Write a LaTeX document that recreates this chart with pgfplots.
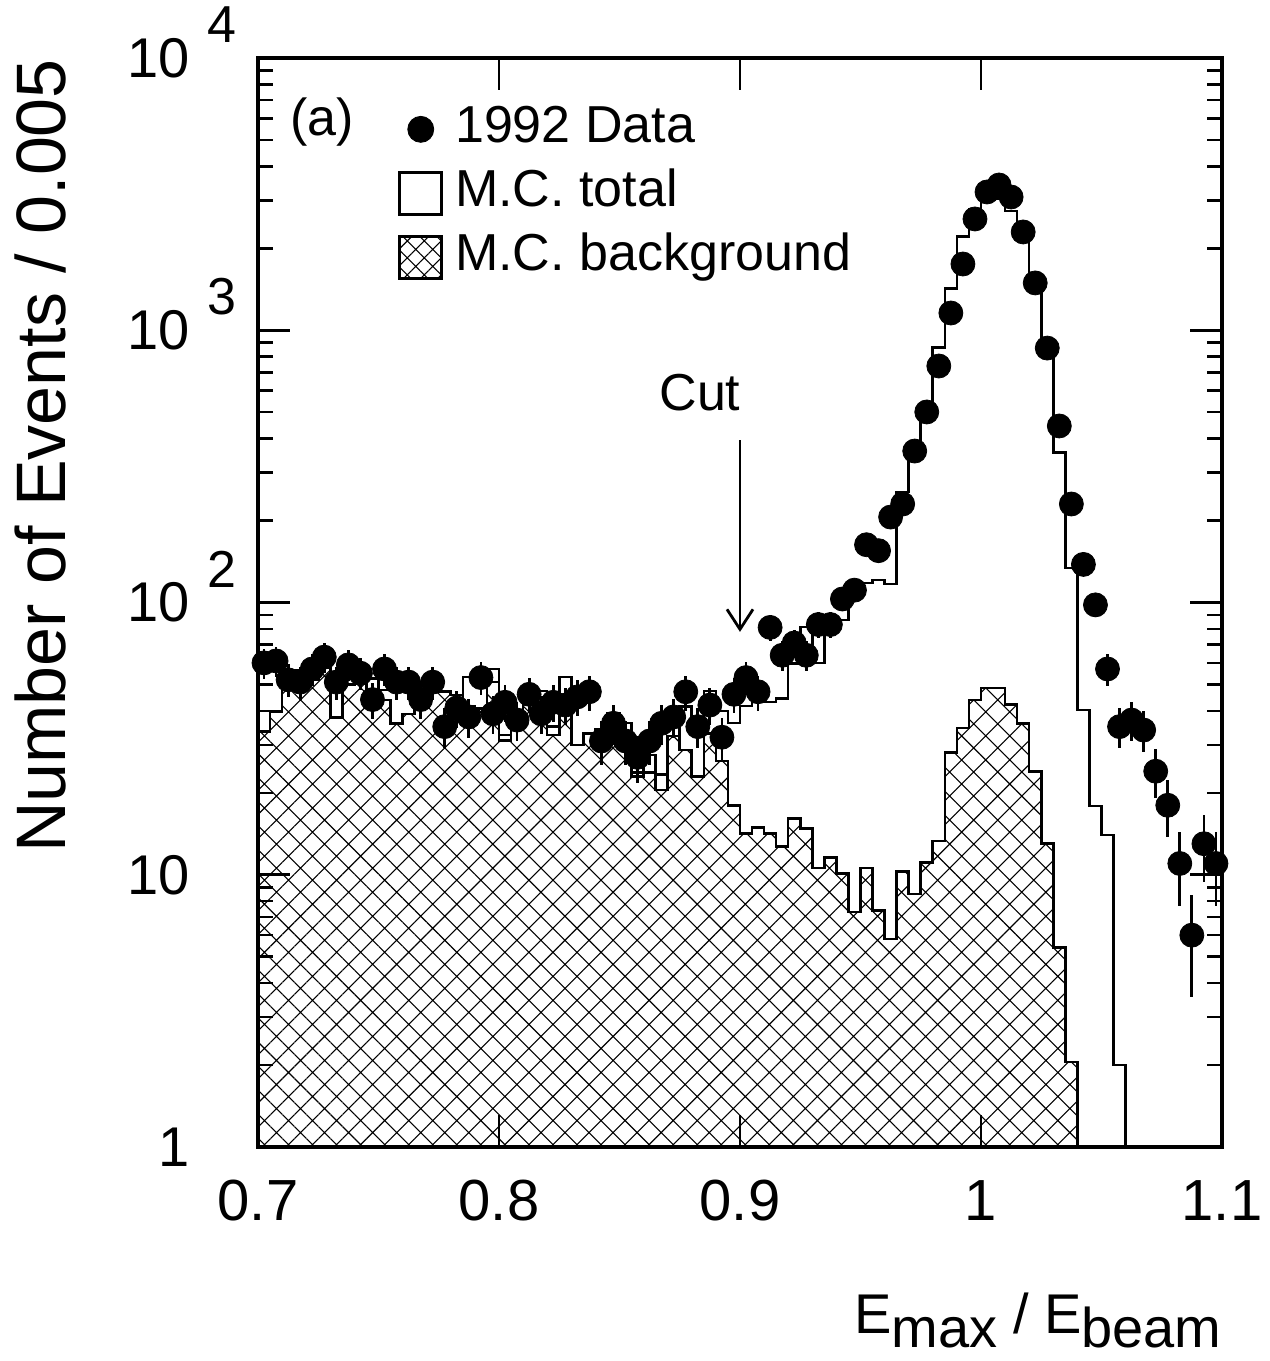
\documentclass[border=0pt]{standalone}
\usepackage{fontspec}
\setmainfont{Liberation Sans}
\usepackage{pgfplots}
\pgfplotsset{compat=1.18}
\usetikzlibrary{patterns.meta,arrows.meta}

\newcommand{\supr}[1]{\rlap{\smash{\raisebox{0.62em}{\hspace{9pt}\fontsize{26}{26}\selectfont #1}}}}
\tikzset{hatchfill/.style={pattern={Hatch[angle=45,distance=8.5pt,line width=0.55pt]}}}

\begin{document}
\begin{tikzpicture}
\begin{axis}[
  width=482pt, height=544.5pt, scale only axis,
  xmin=0.7, xmax=1.1, ymin=1, ymax=10000, ymode=log,
  xtick={0.7,0.8,0.9,1,1.1}, xticklabels={0.7,0.8,0.9,1,1.1},
  ytick={1,10,100,1000,10000},
  yticklabels={1,10,{10\supr{2}},{10\supr{3}},{10\supr{4}}},
  minor ytick={2,3,4,5,6,7,8,9,20,30,40,50,60,70,80,90,200,300,400,500,600,700,800,900,2000,3000,4000,5000,6000,7000,8000,9000},
  tick align=inside, xtick pos=both, ytick pos=both,
  major tick length=16pt, minor tick length=7.5pt,
  axis line style={line width=1.6pt},
  every tick/.style={black, line width=1.3pt},
  xticklabel style={font=\fontsize{29}{29}\selectfont, inner sep=0pt, yshift=-16.5pt},
  yticklabel style={font=\fontsize{28}{28}\selectfont, inner sep=0pt, xshift=-34pt},
  xlabel={E\raisebox{-0.26em}{max} / E\raisebox{-0.26em}{beam}},
  xlabel style={at={(axis description cs:1,-0.171)}, anchor=base east, inner sep=0pt, font=\fontsize{28}{28}\selectfont},
  ylabel={Number of Events / 0.005},
  ylabel style={at={(axis description cs:-0.2261,0.6345)}, anchor=center, font=\fontsize{35}{35}\selectfont},
  legend style={at={(axis description cs:0.1452,0.9578)}, anchor=north west, draw=none, fill=none, inner sep=0pt,
    font=\fontsize{26}{26}\selectfont, row sep=7pt, column sep=6pt,
    nodes={inner sep=0pt, text height=19pt, text depth=6pt}},
  legend cell align=left,
]
\addlegendimage{legend image code/.code={\fill[black] (10.5pt,0pt) circle (6.5pt);}}
\addlegendentry{1992 Data}
\addlegendimage{legend image code/.code={\draw[line width=1.4pt] (0pt,-10.5pt) rectangle (21pt,10.5pt);}}
\addlegendentry{M.C. total}
\addlegendimage{legend image code/.code={\draw[line width=1.4pt, pattern={Hatch[angle=45,distance=6pt,line width=0.55pt]}] (0pt,-10.5pt) rectangle (21pt,10.5pt);}}
\addlegendentry{M.C. background}

% M.C. background (hatched)
\addplot[forget plot, const plot mark left, draw=black, line width=1.3pt, hatchfill] coordinates {
(0.700,33.6)(0.705,39.8)(0.710,49.8)(0.715,55.0)(0.720,51.9)(0.725,57.5)(0.730,37.9)(0.735,50.0)(0.740,53.1)(0.745,47.7)
(0.750,43.8)(0.755,36.0)(0.760,38.9)(0.765,47.7)(0.770,49.2)(0.775,47.1)(0.780,45.7)(0.785,41.4)(0.790,40.9)(0.795,51.1)
(0.800,31.1)(0.805,39.1)(0.810,43.3)(0.815,45.0)(0.820,32.6)(0.825,39.6)(0.830,30.0)(0.835,33.1)(0.840,34.3)(0.845,35.5)
(0.850,31.3)(0.855,22.9)(0.860,23.7)(0.865,20.5)(0.870,32.3)(0.875,28.7)(0.880,22.9)(0.885,33.1)(0.890,26.2)(0.895,18.0)
(0.900,14.2)(0.905,14.9)(0.910,14.2)(0.915,12.7)(0.920,16.1)(0.925,14.8)(0.930,10.6)(0.935,11.6)(0.940,10.1)(0.945,7.3)
(0.950,10.6)(0.955,7.4)(0.960,5.8)(0.965,10.3)(0.970,8.5)(0.975,11.1)(0.980,13.3)(0.985,28.1)(0.990,34.6)(0.995,43.8)
(1.000,48.5)(1.005,48.5)(1.010,42.2)(1.015,35.9)(1.020,23.9)(1.025,13.0)(1.030,5.4)(1.035,2.05)(1.040,1)
} \closedcycle;

% M.C. total
\addplot[forget plot, const plot mark left, black, line width=1.3pt] coordinates {
(0.700,33.6)(0.705,39.8)(0.710,49.8)(0.715,56.5)(0.720,51.9)(0.725,57.5)(0.730,49.8)(0.735,50.0)(0.740,53.1)(0.745,52.7)
(0.750,47.7)(0.755,48.4)(0.760,49.8)(0.765,47.7)(0.770,49.2)(0.775,47.1)(0.780,45.7)(0.785,53.3)(0.790,56.5)(0.795,57.0)
(0.800,32.6)(0.805,39.1)(0.810,43.3)(0.815,47.3)(0.820,35.1)(0.825,53.3)(0.830,30.0)(0.835,33.1)(0.840,34.3)(0.845,39.3)
(0.850,36.1)(0.855,23.8)(0.860,27.5)(0.865,23.3)(0.870,32.3)(0.875,41.4)(0.880,32.6)(0.885,47.3)(0.890,40.0)(0.895,36.1)
(0.900,41.7)(0.905,43.1)(0.910,43.1)(0.915,44.5)(0.920,59.6)(0.925,81.3)(0.930,60.0)(0.935,86.1)(0.940,86.1)(0.945,104)
(0.950,118)(0.955,121)(0.960,117)(0.965,255)(0.970,363)(0.975,468)(0.980,864)(0.985,1424)(0.990,2214)(0.995,2782)
(1.000,3040)(1.005,3040)(1.010,2742)(1.015,2315)(1.020,1492)(1.025,860)(1.030,355)(1.035,134)(1.040,40.3)(1.045,17.9)
(1.050,14.0)(1.055,2.0)(1.060,1)
};

% 1992 Data
\addplot[forget plot, only marks, mark=*, mark size=6pt, black,
  error bars/.cd, y dir=both, y explicit, error mark=none, error bar style={line width=1.4pt}] coordinates {
(0.7025,60) +- (0,7.7) (0.7075,61) +- (0,7.8) (0.7125,52) +- (0,7.2) (0.7175,51) +- (0,7.1) (0.7225,57) +- (0,7.5)
(0.7275,63) +- (0,7.9) (0.7325,51) +- (0,7.1) (0.7375,59) +- (0,7.7) (0.7425,55) +- (0,7.4) (0.7475,44) +- (0,6.6)
(0.7525,57) +- (0,7.5) (0.7575,51) +- (0,7.1) (0.7625,51) +- (0,7.1) (0.7675,44) +- (0,6.6) (0.7725,51) +- (0,7.1)
(0.7775,35) +- (0,5.9) (0.7825,41) +- (0,6.4) (0.7875,38) +- (0,6.2) (0.7925,53) +- (0,7.3) (0.7975,39) +- (0,6.2)
(0.8025,43) +- (0,6.6) (0.8075,37) +- (0,6.1) (0.8125,46) +- (0,6.8) (0.8175,39) +- (0,6.2) (0.8225,43) +- (0,6.6)
(0.8275,42) +- (0,6.5) (0.8325,45) +- (0,6.7) (0.8375,47) +- (0,6.9) (0.8425,31) +- (0,5.6) (0.8475,36) +- (0,6.0)
(0.8525,31) +- (0,5.6) (0.8575,27) +- (0,5.2) (0.8625,31) +- (0,5.6) (0.8675,36) +- (0,6.0) (0.8725,38) +- (0,6.2)
(0.8775,47) +- (0,6.9) (0.8825,35) +- (0,5.9) (0.8875,42) +- (0,6.5) (0.8925,32) +- (0,5.7) (0.8975,46) +- (0,6.8)
(0.9025,53) +- (0,7.3) (0.9075,47) +- (0,6.9) (0.9125,81) +- (0,9.0) (0.9175,64) +- (0,8.0) (0.9225,71) +- (0,8.4)
(0.9275,64) +- (0,8.0) (0.9325,83) +- (0,9.1) (0.9375,83) +- (0,9.1) (0.9425,103) +- (0,10.1) (0.9475,111) +- (0,10.5)
(0.9525,163) +- (0,12.8) (0.9575,155) +- (0,12.4) (0.9625,206) +- (0,14.4) (0.9675,230) +- (0,15.2) (0.9725,360) +- (0,19.0)
(0.9775,501) +- (0,22.4) (0.9825,739) +- (0,27.2) (0.9875,1157) +- (0,34.0) (0.9925,1751) +- (0,41.8) (0.9975,2563) +- (0,50.6)
(1.0025,3220) +- (0,56.7) (1.0075,3416) +- (0,58.4) (1.0125,3086) +- (0,55.6) (1.0175,2296) +- (0,47.9) (1.0225,1492) +- (0,38.6)
(1.0275,860) +- (0,29.3) (1.0325,445) +- (0,21.1) (1.0375,230) +- (0,15.2) (1.0425,138) +- (0,11.7) (1.0475,98) +- (0,9.9)
(1.0525,57) +- (0,7.5) (1.0575,35) +- (0,5.9) (1.0625,37) +- (0,6.1) (1.0675,34) +- (0,5.8) (1.0725,24) +- (0,4.9)
(1.0775,18) +- (0,4.2) (1.0825,11) +- (0,3.3) (1.0875,6) +- (0,2.45) (1.0925,13) +- (0,3.6) (1.0975,11) +- (0,3.3)
};

\node[anchor=west, font=\fontsize{26}{26}\selectfont] at (axis description cs:0.026,0.9412) {(a)};
\node[font=\fontsize{26}{26}\selectfont] at (axis cs:0.8834,588) {Cut};
\draw[line width=1.4pt, -{Straight Barb[length=10pt,width=13pt,line width=1.4pt]}] (axis cs:0.9,395) -- (axis cs:0.9,78);
\end{axis}
\pgfresetboundingbox
\path ([xshift=-129pt,yshift=-107pt]current axis.south west) rectangle ([xshift=24pt,yshift=29pt]current axis.north east);
\end{tikzpicture}
\end{document}
